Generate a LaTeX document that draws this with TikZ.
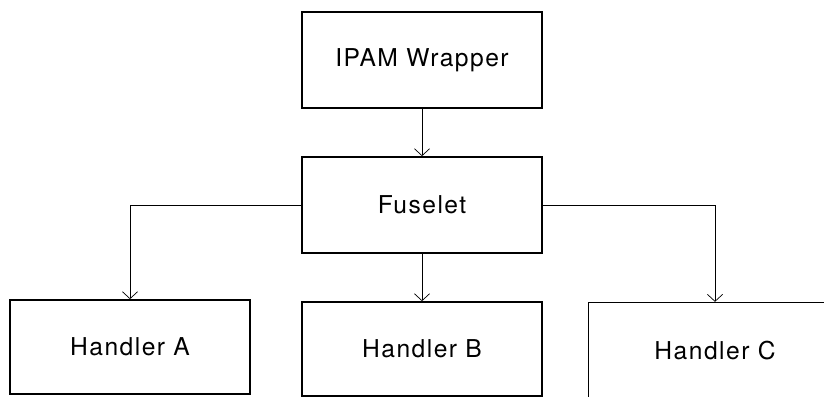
\documentclass[tikz,border=0pt]{standalone}
\usepackage{fontspec}
\newfontfamily\boxfont[LetterSpace=6]{TeX Gyre Heros}
\usetikzlibrary{arrows.meta,positioning}

\tikzset{
	block/.style={draw, line width=1.4pt, font=\boxfont\fontsize{21}{25}\selectfont,
		minimum width=7.2cm, inner sep=0pt},
	link/.style={line width=0.6pt, -{Straight Barb[length=6pt, width=13pt]}}
}

\begin{document}
\begin{tikzpicture}[x=0.03cm, y=-0.03cm]
		\useasboundingbox (0,0) rectangle (824,396);
		\clip (0,0) rectangle (824,396);
		% top of the chain
		\node[block, minimum height=2.88cm] (wrapper) at (422,60) {IPAM Wrapper};
		\node[block, minimum height=2.88cm] (fuselet) at (422,205) {Fuselet};
		% the handlers
		\node[block, minimum height=2.82cm] (handA) at (130,347) {Handler A};
		\node[block, minimum height=2.82cm] (handB) at (422,349) {Handler B};
		\node[block, minimum height=2.9cm, minimum width=7.6cm] (handC) at (715,351) {Handler C};
		\draw[link] (wrapper) -- (fuselet);
		\draw[link] (fuselet) -- (handB);
		\draw[link] (fuselet.west) -| (handA.north);
		\draw[link] (fuselet.east) -| (handC.north);
	\end{tikzpicture}
\end{document}
